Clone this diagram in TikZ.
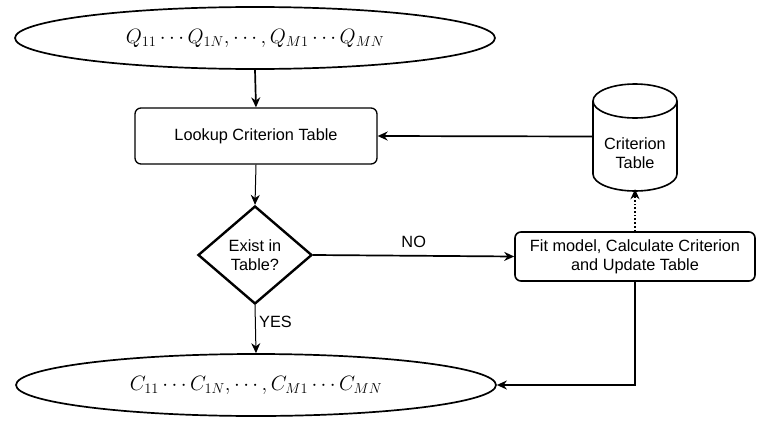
\documentclass[tikz,border=0pt]{standalone}
\usepackage{fontspec}
\setmainfont{Liberation Sans}
\usetikzlibrary{shapes.geometric,arrows.meta}
\begin{document}
\begin{tikzpicture}[x=1pt,y=-1pt,
  lbl/.style={font=\fontsize{16.3}{19}\selectfont},
  ell/.style={ellipse,draw,line width=1.7pt,minimum width=480pt,minimum height=62pt,inner sep=0pt},
  box/.style={rectangle,rounded corners=6pt,draw,align=center,lbl},
  arr/.style={-{Stealth[length=10pt,width=9pt]},line width=1pt},
  arrthick/.style={-{Stealth[length=10pt,width=9pt]},line width=1.7pt}]
\useasboundingbox (0,0) rectangle (762,431);
\node[ell] (q) at (255,38) {\fontsize{20}{24}\selectfont $Q_{11}\cdots Q_{1N},\cdots,Q_{M1}\cdots Q_{MN}$};
\node[ell] (c) at (256,385) {\fontsize{20}{24}\selectfont $C_{11}\cdots C_{1N},\cdots,C_{M1}\cdots C_{MN}$};
\node[box,line width=1.3pt,minimum width=242pt,minimum height=56pt] (look) at (256,136) {Lookup Criterion Table};
\node[diamond,draw,line width=2.4pt,minimum width=114pt,minimum height=98pt,inner sep=0pt,aspect=1.15,align=center,lbl] (d) at (255,255) {Exist in\\Table?};
\node[box,line width=1.6pt,minimum width=240pt,minimum height=49pt,inner sep=2pt] (fit) at (635,256.5) {Fit model, Calculate Criterion\\and Update Table};
\node[draw=none,minimum width=84pt,minimum height=111pt,inner sep=0pt] (cyl) at (635,136.5) {};
\node[align=center,lbl,inner sep=0pt] (cyltext) at (635,153) {Criterion\\Table};
% cylinder shape
\draw[line width=1.6pt] (593,101) -- (593,174) arc[start angle=180,end angle=360,x radius=42pt,y radius=17pt] -- (677,101)
  arc[start angle=0,end angle=180,x radius=42pt,y radius=17pt];
\draw[line width=1.6pt] (593,101) arc[start angle=180,end angle=360,x radius=42pt,y radius=17pt];
% connectors
\draw[arrthick] (q.south) -- (look.north);
\draw[arr] (look.south) -- (d.north);
\draw[arrthick] (d.east) -- node[above=4pt,lbl] {NO} (fit.west);
\draw[arr] (d.south) -- node[right=0pt,pos=0.35,lbl] {YES} (c.north);
\draw[arrthick,dotted] (fit.north) -- ([yshift=3pt]cyl.south);
\draw[arrthick] (cyl.west) -- (look.east);
\coordinate (corner) at (fit.south |- c.east);
\draw[arrthick] (fit.south) -- (corner) -- (c.east);
\end{tikzpicture}
\end{document}
